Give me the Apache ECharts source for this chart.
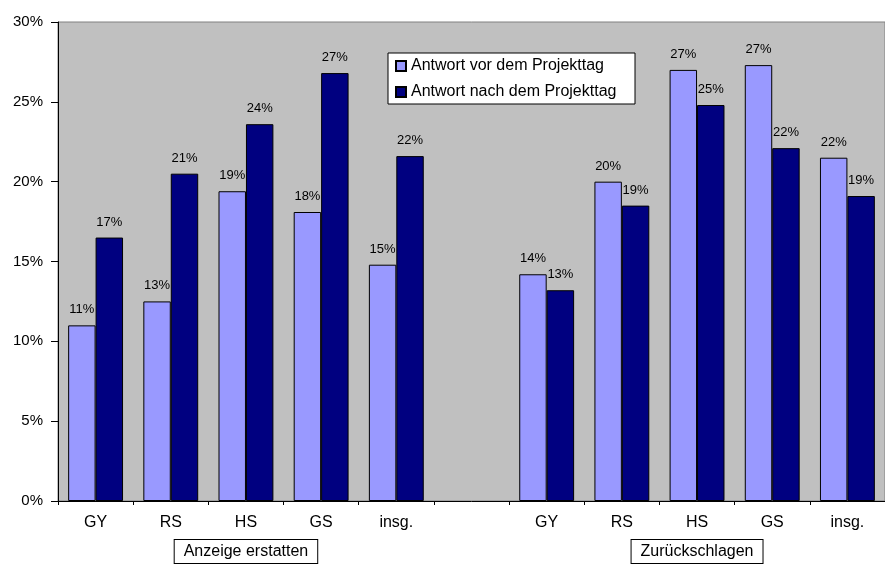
<!DOCTYPE html>
<html>
<head>
<meta charset="utf-8">
<script src="https://cdn.jsdelivr.net/npm/echarts@6/dist/echarts.min.js"></script>
<style>html,body{margin:0;padding:0;background:#fff}#c{width:885px;height:565px}</style>
</head>
<body>
<div id="c"></div>
<script>
const categories = ['GY','RS','HS','GS','insg.','','GY','RS','HS','GS','insg.'];
const groupLabels = ['','','Anzeige erstatten','','','','','','Zurückschlagen','',''];
const seriesNames = ['Antwort vor dem Projekttag','Antwort nach dem Projekttag'];
const vorValues = [11.0,12.5,19.4,18.1,14.8,null,14.2,20.0,27.0,27.3,21.5];
const nachValues = [16.5,20.5,23.6,26.8,21.6,null,13.2,18.5,24.8,22.1,19.1];
const yTicks = {min:0,max:30,interval:5};

const FONT = '"Liberation Sans", Arial, sans-serif';
const chart = echarts.init(document.getElementById('c'), null, {renderer:'canvas'});

function labelCfg(){
  return {show:true, position:'top', distance:9, color:'#000', fontSize:13, fontFamily:FONT,
    formatter: p => p.value == null ? '' : Math.round(p.value) + '%'};
}

chart.setOption({
  animation:false,
  backgroundColor:'#fff',
  textStyle:{fontFamily:FONT},
  grid:{left:58, top:22, right:0, bottom:64, show:true, backgroundColor:'#C0C0C0', borderColor:'#808080', borderWidth:1},
  legend:{
    orient:'vertical', left:388, top:53, icon:'rect',
    backgroundColor:'#fff', borderColor:'#000', borderWidth:1,
    padding:[5,6,4,7], itemGap:10, itemWidth:10, itemHeight:10,
    textStyle:{fontSize:16, color:'#000', fontFamily:FONT, lineHeight:16, width:218},
    data:seriesNames
  },
  xAxis:[{
    type:'category', data:categories, gridIndex:0,
    axisLine:{show:true, lineStyle:{color:'#000', width:1}},
    axisTick:{show:true, length:4, lineStyle:{color:'#000'}},
    axisLabel:{color:'#000', fontSize:16, fontFamily:FONT, margin:14, interval:0},
    splitLine:{show:false}
  },{
    type:'category', data:groupLabels, gridIndex:0, position:'bottom', offset:31,
    axisLine:{show:false}, axisTick:{show:false}, splitLine:{show:false},
    axisLabel:{interval:0, color:'#000', fontSize:16, fontFamily:FONT, margin:8,
      formatter: v => v ? '{b|' + v + '}' : '',
      rich:{b:{color:'#000', fontSize:16, fontFamily:FONT, borderColor:'#000', borderWidth:1,
        padding:[4,9,3,9], backgroundColor:'#fff'}}}
  }],
  yAxis:{
    type:'value', min:yTicks.min, max:yTicks.max, interval:yTicks.interval,
    axisLine:{show:true, lineStyle:{color:'#000', width:1}},
    axisTick:{show:true, length:7, lineStyle:{color:'#000'}},
    axisLabel:{color:'#000', fontSize:15, fontFamily:FONT, margin:15, formatter:'{value}%'},
    splitLine:{show:false}
  },
  series:[{
    name:seriesNames[0], type:'bar', data:vorValues, xAxisIndex:0,
    barGap:'0%', barCategoryGap:'27%',
    itemStyle:{color:'#9999FF', borderColor:'#000', borderWidth:1},
    label:labelCfg()
  },{
    name:seriesNames[1], type:'bar', data:nachValues, xAxisIndex:0,
    barGap:'0%', barCategoryGap:'27%',
    itemStyle:{color:'#000080', borderColor:'#000', borderWidth:1},
    label:labelCfg()
  }]
});
</script>
</body>
</html>
